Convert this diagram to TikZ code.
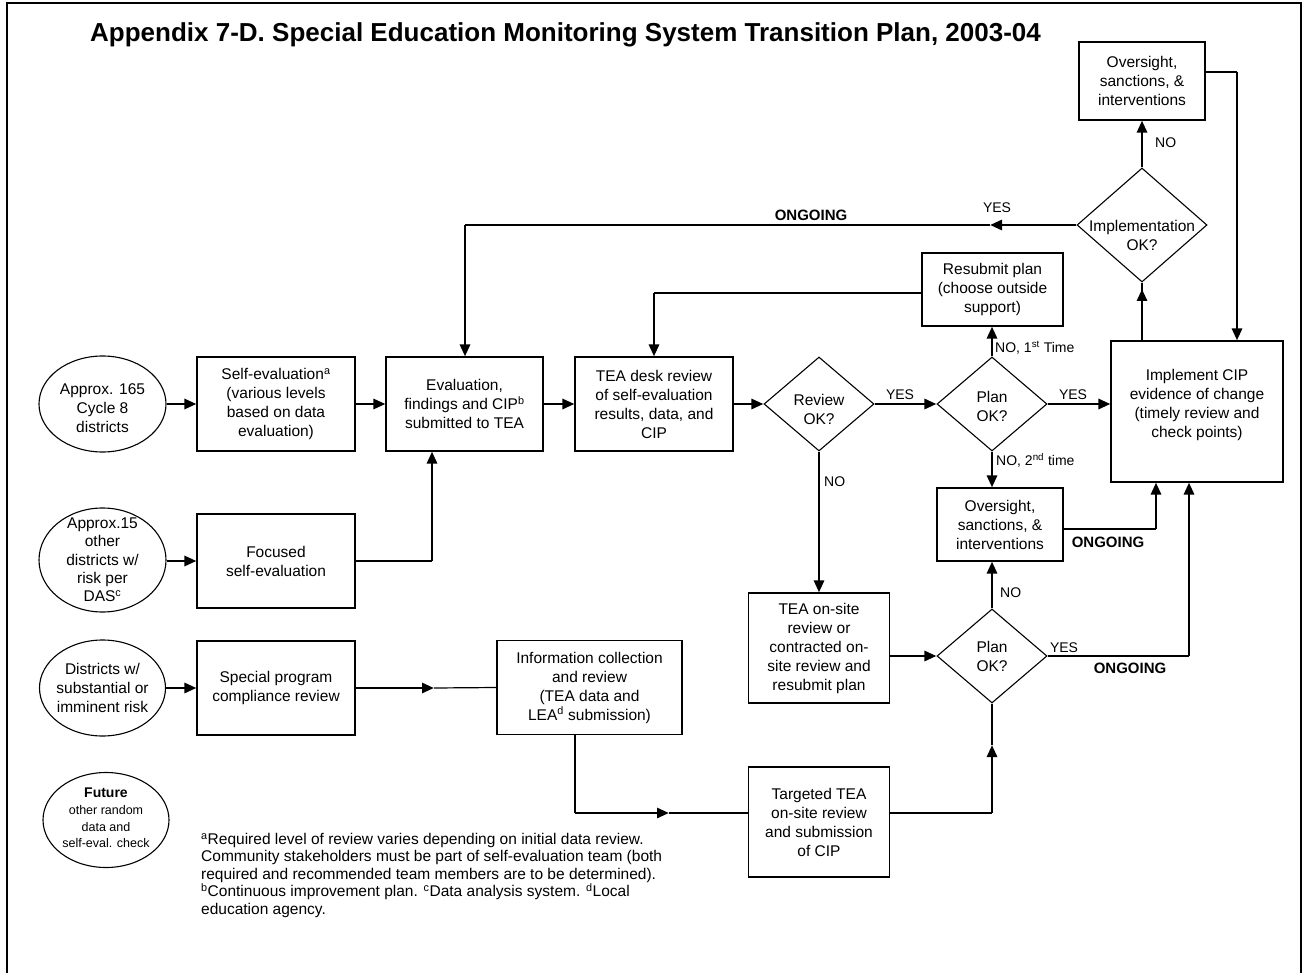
\documentclass[tikz,border=0pt]{standalone}
\usepackage{fontspec}
\setmainfont{Liberation Sans}
\usetikzlibrary{arrows.meta,shapes.geometric}
\begin{document}
\begin{tikzpicture}[x=1pt,y=-1pt,
  box/.style={draw, line width=1.1pt, align=center, inner sep=0pt, font=\fontsize{15.5}{19}\selectfont},
  oval/.style={draw, ellipse, line width=1.1pt, inner sep=0pt},
  dia/.style={draw, diamond, line width=1.1pt, inner sep=0pt, minimum width=110pt, minimum height=94pt},
  intext/.style={align=center, inner sep=0pt, font=\fontsize{15.5}{19}\selectfont},
  wire/.style={line width=1.2pt},
  heavy/.style={line width=2.8pt},
  arr/.style={-{Triangle[length=12pt,width=10pt]}},
  lab/.style={inner sep=0pt, font=\fontsize{14}{16}\selectfont},
  ong/.style={inner sep=0pt, font=\bfseries\fontsize{15}{17}\selectfont}
]
\useasboundingbox (0,0) rectangle (1305,973);
\draw[line width=2pt] (7,980) -- (7,3) -- (1301,3) -- (1301,980);

% title
\node[anchor=base west, inner sep=0pt, font=\bfseries\fontsize{26}{30}\selectfont] (title) at (90,42)
  {Appendix 7-D. Special Education Monitoring System Transition Plan, 2003-04};

% row 1
\node[oval, minimum width=127pt, minimum height=96pt,
  label={[intext, yshift=-4pt]center:{Approx. 165\\Cycle 8\\districts}}] (ell1) at (102.5,404) {};
\node[box, minimum width=158pt, minimum height=94pt] (selfev) at (276,404)
  {Self-evaluation\textsuperscript{a}\\(various levels\\based on data\\evaluation)};
\node[box, minimum width=157pt, minimum height=94pt] (eval) at (464.5,404)
  {Evaluation,\\findings and CIP\textsuperscript{b}\\submitted to TEA};
\node[box, minimum width=158pt, minimum height=94pt] (tdesk) at (654,404)
  {TEA desk review\\of self-evaluation\\results, data, and\\CIP};
\node[dia, label={[intext, yshift=-5pt]center:{Review\\OK?}}] (review) at (819,404) {};
\node[dia, label={[intext, yshift=-2.5pt]center:{Plan\\OK?}}] (plan1) at (992,404) {};
\node[box, minimum width=172pt, minimum height=141pt,
  label={[intext, yshift=6.5pt]center:{Implement CIP\\evidence of change\\(timely review and\\check points)}}] (impl) at (1197,411.5) {};
\node[box, minimum width=141pt, minimum height=73pt] (resub) at (992.5,289.5)
  {Resubmit plan\\(choose outside\\support)};
\node[box, minimum width=126pt, minimum height=78pt] (ovtop) at (1142,81)
  {Oversight,\\sanctions, \&\\interventions};
\node[dia, minimum width=130pt, minimum height=114pt,
  label={[intext, yshift=-10pt]center:{Implementation\\OK?}}] (implok) at (1142,225) {};

% row 2
\node[oval, minimum width=127pt, minimum height=104pt,
  label={[align=center, inner sep=0pt, font=\fontsize{15.5}{18.3}\selectfont]center:{Approx.15\\other\\districts w/\\risk per\\DAS\textsuperscript{c}}}] (ell2) at (102.5,560) {};
\node[box, minimum width=158pt, minimum height=94pt] (focused) at (276,561)
  {Focused\\self-evaluation};
\node[box, minimum width=126pt, minimum height=73pt] (ovmid) at (1000,524.5)
  {Oversight,\\sanctions, \&\\interventions};

% row 3
\node[oval, minimum width=126pt, minimum height=96pt,
  label={[intext]center:{Districts w/\\substantial or\\imminent risk}}] (ell3) at (102.5,688) {};
\node[box, minimum width=158pt, minimum height=94pt] (special) at (276,688)
  {Special program\\compliance review};
\node[box, minimum width=185pt, minimum height=94pt] (info) at (589.5,687.5)
  {Information collection\\and review\\(TEA data and\\LEA\textsuperscript{d} submission)};
\node[box, minimum width=141pt, minimum height=110pt] (onsite) at (819,648)
  {TEA on-site\\review or\\contracted on-\\site review and\\resubmit plan};
\node[dia, label={[intext]center:{Plan\\OK?}}] (plan2) at (992,656) {};
\node[box, minimum width=141pt, minimum height=110pt] (target) at (819,822)
  {Targeted TEA\\on-site review\\and submission\\of CIP};

% future
\node[oval, minimum width=126pt, minimum height=95pt,
  label={[align=center, inner sep=0pt, font=\fontsize{12.5}{16.7}\selectfont, yshift=2pt]center:{{\fontsize{14}{16.7}\selectfont\textbf{Future}}\\other random\\data and\\self-eval. check}}] (future) at (106,820) {};

% footnote
\node[anchor=north west, align=left, inner sep=0pt, font=\fontsize{15.5}{17.5}\selectfont] (foot) at (201,833)
  {\textsuperscript{a}Required level of review varies depending on initial data review.\\
   Community stakeholders must be part of self-evaluation team (both\\
   required and recommended team members are to be determined).\\
   \textsuperscript{b}Continuous improvement plan. \textsuperscript{c}Data analysis system. \textsuperscript{d}Local\\
   education agency.};

% bend coordinates
\coordinate (c1) at (654,293);
\coordinate (c2) at (1156,529);
\coordinate (c3) at (1189,656);
\coordinate (c4) at (1142,289);
\coordinate (c6) at (1237,72);
\coordinate (c7) at (990,225);
\coordinate (c8) at (465,225);
\coordinate (c9) at (432,561);
\coordinate (c10) at (434,688);
\coordinate (c11) at (575,734);
\coordinate (c12) at (575,813);
\coordinate (c13) at (669,813);
\coordinate (c14) at (992,813);
\coordinate (c15) at (992,745);

% row 1 connectors
\draw[heavy, arr] (ell1) -- (selfev);
\draw[heavy, arr] (selfev) -- (eval);
\draw[heavy, arr] (eval) -- (tdesk);
\draw[heavy, arr] (tdesk) -- (review);
\draw[heavy, arr] (review) -- (plan1);
\node[lab] (yes1) at (900,395) {YES};
\draw[heavy, arr] (plan1) -- (impl.west |- plan1);
\node[lab] (yes2) at (1073,395) {YES};

% plan1 up / down
\draw[heavy, arr] (plan1.north) -- (plan1.north |- resub.south);
\node[lab, anchor=west] (no1) at (995,348) {NO, 1\textsuperscript{st} Time};
\draw[wire] (resub.west |- c1) -- (c1);
\draw[heavy, arr] (c1) -- (tdesk.north);
\draw[heavy, arr] (plan1.south) -- (plan1.south |- ovmid.north);
\node[lab, anchor=west] (no2) at (996,460) {NO, 2\textsuperscript{nd} time};

% review down
\draw[heavy, arr] (review.south) -- (onsite.north);
\node[lab, anchor=west] (no3) at (824,482) {NO};
\draw[heavy, arr] (onsite.east |- plan2.west) -- (plan2.west);
\draw[heavy, arr] (plan2.north) -- (plan2.north |- ovmid.south);
\node[lab, anchor=west] (no4) at (1000,593) {NO};

% oversight mid -> implement
\draw[wire] (ovmid.east |- c2) -- (c2);
\draw[heavy, arr] (c2) -- (c2 |- impl.south);
\node[ong] (ong2) at (1108,542) {ONGOING};

% plan2 yes -> implement
\draw[wire] (plan2.east) -- (c3);
\draw[heavy, arr] (c3) -- (c3 |- impl.south);
\node[lab] (yes3) at (1064,648) {YES};
\node[ong] (ong3) at (1130,668) {ONGOING};

% implement -> implementation ok
\draw[wire] (impl.north -| c4) -- (implok.south);
\draw[heavy, arr] (impl.north -| c4) -- (c4);
\draw[heavy, arr] (implok.north) -- (ovtop.south);
\node[lab, anchor=west] (no5) at (1155,143) {NO};
\draw[wire] (ovtop.east |- c6) -- (c6);
\draw[heavy, arr] (c6) -- (c6 |- impl.north);

% implementation ok -> ongoing
\draw[heavy, arr] (implok.west) -- (c7);
\draw[wire] (c7) -- (c8);
\draw[heavy, arr] (c8) -- (c8 |- eval.north);
\node[lab] (yes4) at (997,208) {YES};
\node[ong] (ong1) at (811,215) {ONGOING};

% focused -> eval
\draw[heavy, arr] (ell2.east |- focused.west) -- (focused.west);
\draw[wire] (focused.east) -- (c9);
\draw[heavy, arr] (c9) -- (c9 |- eval.south);

% special -> info
\draw[heavy, arr] (ell3) -- (special);
\draw[heavy, arr] (special.east) -- (c10);
\draw[wire] (c10) -- (info.west);
\draw[wire] (c11) -- (c12);
\draw[heavy, arr] (c12) -- (c13);
\draw[wire] (c13) -- (target.west |- c13);
\draw[wire] (target.east |- c14) -- (c14);
\draw[heavy, arr] (c14) -- (c15);
\draw[wire] (c15) -- (plan2.south);
\end{tikzpicture}
\end{document}
